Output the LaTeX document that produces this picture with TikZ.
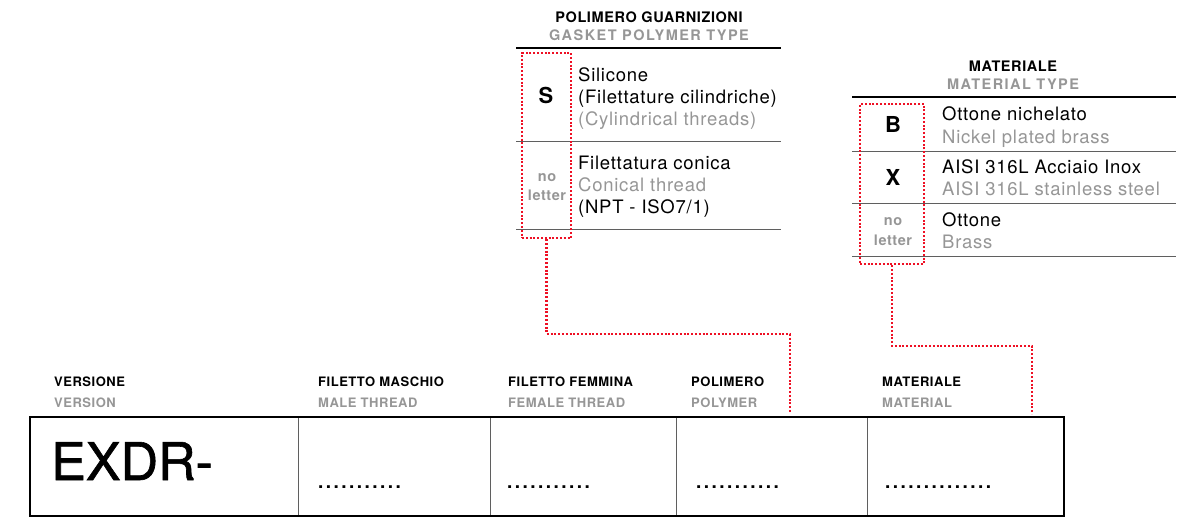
\documentclass[tikz,border=0pt]{standalone}
\usepackage{fontspec}
\setmainfont{TeX Gyre Heros}[LetterSpace=4]
\newfontfamily\widefont{TeX Gyre Heros}[LetterSpace=10]
\newfontfamily\dotfont{TeX Gyre Heros}[LetterSpace=13]
\newfontfamily\codefont{TeX Gyre Heros}[FakeBold=1.2]
\usepackage{tikz}
\usetikzlibrary{positioning,calc}
\usepackage{xcolor}
\definecolor{greytxt}{RGB}{150,150,150}
\definecolor{rulegrey}{RGB}{95,95,95}
\definecolor{keyred}{RGB}{238,16,36}

\tikzset{
    body/.style={anchor=base west, inner sep=0pt, font=\fontsize{18.5}{22}\selectfont},
    bodygrey/.style={body, text=greytxt},
    keyletter/.style={anchor=base, inner sep=0pt, font=\fontsize{22}{24}\selectfont\bfseries},
    noletter/.style={anchor=base, inner sep=0pt, text=greytxt, font=\fontsize{14.5}{16}\selectfont\bfseries},
    tabtitle/.style={anchor=base, inner sep=0pt, font=\fontsize{14.5}{16}\selectfont\bfseries},
    tabsub/.style={anchor=base, inner sep=0pt, text=greytxt, font=\fontsize{14.5}{16}\widefont\bfseries},
    colhead/.style={anchor=base west, inner sep=0pt, font=\fontsize{13}{15}\selectfont\bfseries},
    colsub/.style={colhead, text=greytxt},
    dotrow/.style={anchor=base west, inner sep=0pt, font=\fontsize{19}{20}\dotfont\bfseries},
    keybox/.style={draw=keyred, line width=2.4pt, dash pattern=on 2pt off 1.8pt, inner sep=0pt},
    keylink/.style={keyred, line width=2.4pt, dash pattern=on 2pt off 1.8pt},
    thickrule/.style={line width=2.5pt},
    thinrule/.style={rulegrey, line width=1pt}
}

\begin{document}
\begin{tikzpicture}[x=1pt, y=-1pt]
        \useasboundingbox (0,0) rectangle (1182,517);
        % gasket polymer table
        \node[tabtitle] (polytitle) at (649,22) {POLIMERO GUARNIZIONI};
        \node[tabsub] (polysub) at (649,40) {GASKET POLYMER TYPE};
        \draw[thickrule] (516,48) -- (781,48);
        \draw[thinrule] (516,141) -- (781,141);
        \draw[thinrule] (516,229) -- (781,229);
        \node[keyletter] (polyS) at (546,103) {S};
        \node[body] (polysil) at (578,81) {Silicone};
        \node[body] (polycyl) at (578,103) {(Filettature cilindriche)};
        \node[bodygrey] (polycylen) at (578,125) {(Cylindrical threads)};
        \node[noletter] (polyno) at (547,181) {no};
        \node[noletter] (polyletter) at (547,200) {letter};
        \node[body] (polycon) at (578,169) {Filettatura conica};
        \node[bodygrey] (polyconen) at (578,191) {Conical thread};
        \node[body] (polynpt) at (578,213) {(NPT - ISO7/1)};
        \node[keybox, minimum width=49, minimum height=185] (polykey) at (546.5,145.5) {};
        % material table
        \node[tabtitle] (mattitle) at (1013,71.5) {MATERIALE};
        \node[tabsub] (matsub) at (1013,89) {MATERIAL TYPE};
        \draw[thickrule] (852,97) -- (1176,97);
        \foreach \y in {151,203,256} {
            \draw[thinrule] (852,\y) -- (1176,\y);
        }
        \node[keyletter] (matB) at (893,132) {B};
        \node[body] (matnick) at (942,120) {Ottone nichelato};
        \node[bodygrey] (matnicken) at (942,143) {Nickel plated brass};
        \node[keyletter] (matX) at (893,185) {X};
        \node[body] (mataisi) at (942,173) {AISI 316L Acciaio Inox};
        \node[bodygrey] (mataisien) at (942,195) {AISI 316L stainless steel};
        \node[noletter] (matno) at (893,225) {no};
        \node[noletter] (matletter) at (893,245) {letter};
        \node[body] (matott) at (942,226) {Ottone};
        \node[bodygrey] (matotten) at (942,248) {Brass};
        \node[keybox, minimum width=64, minimum height=160] (matkey) at (892,184) {};
        % code box
        \foreach \xpos/\head/\sub/\id in {54/VERSIONE/VERSION/ver, 318/FILETTO MASCHIO/MALE THREAD/male, 508/FILETTO FEMMINA/FEMALE THREAD/female, 691/POLIMERO/POLYMER/poly, 882/MATERIALE/MATERIAL/mat} {
            \node[colhead] (head\id) at (\xpos,386) {\head};
            \node[colsub] (sub\id) at (\xpos,407) {\sub};
        }
        \foreach \x in {298,490,676,867} {
            \draw[thinrule] (\x,417) -- (\x,516);
        }
        \draw[line width=2pt] (30,417) rectangle (1064,516);
        \node[anchor=base west, inner sep=0pt, font=\fontsize{52}{52}\codefont] (code) at (51,480) {EXDR-};
        \node[dotrow] (dotsmale) at (318,488) {...........};
        \node[dotrow] (dotsfemale) at (507,488) {...........};
        \node[dotrow] (dotspoly) at (696,488) {...........};
        \node[dotrow] (dotsmat) at (885,488) {..............};
        % red links
        \coordinate (polyend) at (790,412);
        \coordinate (matend) at (1032,414);
        \draw[keylink] (polykey.south) -- (polykey.south |- 0,334) -| (polyend);
        \draw[keylink] (matkey.south) -- (matkey.south |- 0,346) -| (matend);
    \end{tikzpicture}
\end{document}
